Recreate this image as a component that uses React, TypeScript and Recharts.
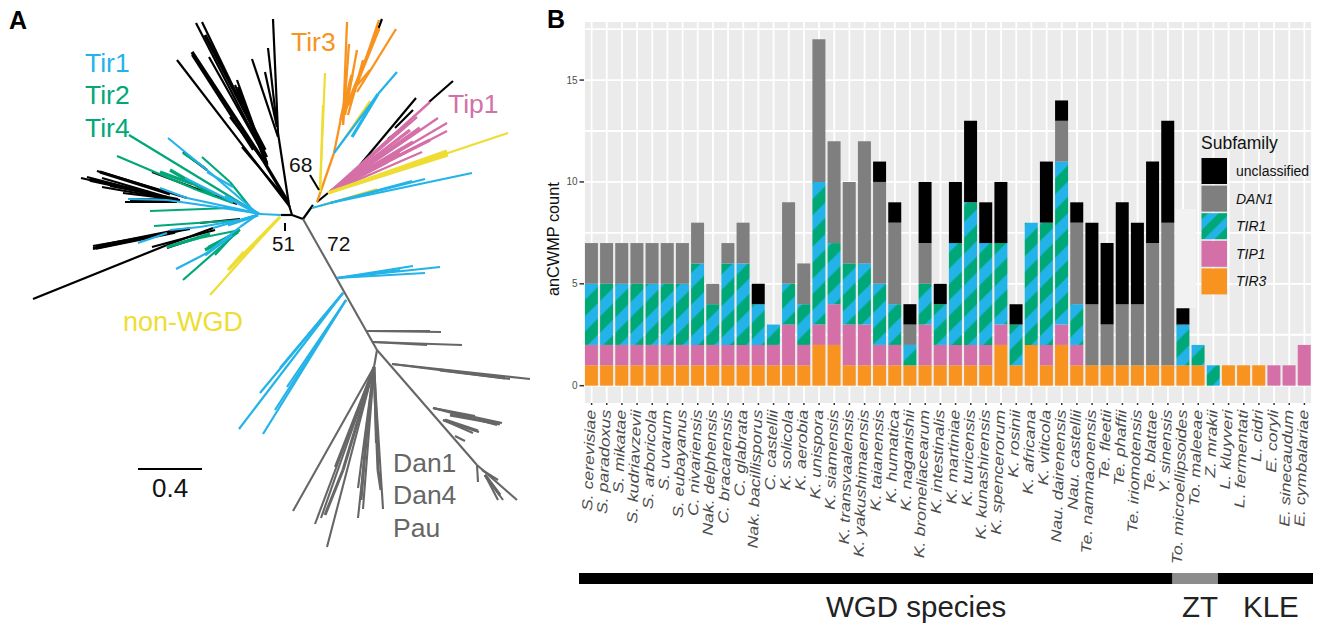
import React from 'react';
import { Bar, BarChart, CartesianGrid, Legend, Scatter, ScatterChart, XAxis, YAxis } from 'recharts';

const BLUE = '#23B3E8';
const GREEN = '#00A878';
const PINK = '#D56FA7';
const ORANGE = '#F7931E';
const YELLOW = '#EEDD33';
const GREY = '#666666';
const BAR_GREY = '#7F7F7F';
const FONT = '"Liberation Sans", Arial, sans-serif';

// panel B
const species = [
  'S. cerevisiae', 'S. paradoxus', 'S. mikatae', 'S. kudriavzevii', 'S. arboricola', 'S. uvarum', 'S. eubayanus',
  'C. nivariensis', 'Nak. delphensis', 'C. bracarensis', 'C. glabrata', 'Nak. bacillisporus', 'C. castellii',
  'K. solicola', 'K. aerobia', 'K. unispora', 'K. siamensis', 'K. transvaalensis', 'K. yakushimaensis',
  'K. taianensis', 'K. humatica', 'K. naganishii', 'K. bromeliacearum', 'K. intestinalis', 'K. martiniae',
  'K. turicensis', 'K. kunashirensis', 'K. spencerorum', 'K. rosinii', 'K. africana', 'K. viticola',
  'Nau. dairenensis', 'Nau. castellii', 'Te. namnaonensis', 'Te. fleetii', 'Te. phaffii', 'Te. iriomotensis',
  'Te. blattae', 'Y. sinensis', 'To. microellipsoides', 'To. maleeae', 'Z. mrakii', 'L. kluyveri', 'L. fermentati',
  'L. cidri', 'E. coryli', 'E. sinecaudum', 'E. cymbalariae',
];
const tir3 = [1, 1, 1, 1, 1, 1, 1, 1, 1, 1, 1, 1, 1, 1, 1, 2, 2, 1, 1, 1, 1, 1, 1, 1, 1, 1, 1, 2, 1, 2, 1, 2, 1, 1, 1, 1, 1, 1, 1, 1, 1, 0, 1, 1, 1, 0, 0, 0];
const tip1 = [1, 1, 1, 1, 1, 1, 1, 1, 1, 1, 1, 1, 1, 2, 1, 1, 2, 2, 2, 1, 1, 0, 2, 1, 1, 1, 1, 1, 0, 0, 1, 1, 1, 0, 0, 0, 0, 0, 0, 0, 0, 0, 0, 0, 0, 1, 1, 2];
const tir1 = [3, 3, 3, 3, 3, 3, 3, 4, 2, 4, 4, 2, 1, 2, 2, 7, 3, 3, 3, 3, 2, 1, 2, 2, 5, 7, 5, 4, 2, 6, 6, 8, 2, 0, 0, 0, 0, 0, 0, 2, 1, 1, 0, 0, 0, 0, 0, 0];
const dan1 = [2, 2, 2, 2, 2, 2, 2, 2, 1, 1, 2, 0, 0, 4, 2, 7, 5, 4, 6, 5, 4, 1, 2, 0, 0, 0, 0, 0, 0, 0, 0, 2, 4, 3, 2, 3, 3, 6, 7, 0, 0, 0, 0, 0, 0, 0, 0, 0];
const unclassified = [0, 0, 0, 0, 0, 0, 0, 0, 0, 0, 0, 1, 0, 0, 0, 0, 0, 0, 0, 1, 1, 1, 3, 1, 3, 4, 2, 3, 1, 0, 3, 1, 1, 4, 4, 5, 4, 4, 5, 0.8, 0, 0, 0, 0, 0, 0, 0, 0];

const barData = species.map((name, i) => ({
  name,
  TIR3: tir3[i],
  TIP1: tip1[i],
  TIR1: tir1[i],
  DAN1: dan1[i],
  unclassified: unclassified[i],
}));

const yTicks = [0, 5, 10, 15];
const yGrid = [0, 2.5, 5, 7.5, 10, 12.5, 15, 17.5];

const legendItems = [
  { name: 'unclassified', fill: '#000000', italic: false },
  { name: 'DAN1', fill: BAR_GREY, italic: true },
  { name: 'TIR1', fill: 'url(#tir1-legend)', italic: true },
  { name: 'TIP1', fill: PINK, italic: true },
  { name: 'TIR3', fill: ORANGE, italic: true },
];

// species per clade, as the width of the band under the axis
const cladeSpans = [{ name: 'clades', WGD: 39.3, ZT: 3, KLE: 6.3 }];

// panel A, branches as [x1, y1, x2, y2] in tree layout units
const blackBranches = [
  [281, 215, 292, 215], [292, 215, 303, 219], [303, 219, 313, 205], [317, 202, 328, 193],
  [273, 19, 278, 133], [268, 48, 277, 127], [265, 72, 277, 127], [252, 59, 278, 137], [278, 133, 289, 205], [289, 205, 292, 215],
  [177, 60, 290, 207], [192, 55, 253, 150], [196, 23, 265, 157], [202, 22, 267, 157], [209, 57, 263, 153],
  [237, 80, 267, 163], [235, 85, 267, 163], [238, 87, 265, 160], [230, 117, 263, 160], [242, 147, 287, 200],
  [152, 172, 237, 204], [97, 171, 187, 198], [81, 178, 177, 200], [102, 178, 167, 197], [102, 187, 177, 200], [123, 193, 180, 200],
  [125, 202, 177, 202], [183, 152, 207, 170], [87, 177, 180, 201], [110, 186, 178, 199],
  [200, 223, 240, 219], [93, 248, 190, 228], [93, 246, 190, 229], [93, 249, 160, 235], [33, 299, 167, 245], [167, 245, 213, 228],
  [152, 247, 215, 230], [167, 248, 200, 237],
  [429, 102, 453, 81], [360, 165, 416, 98], [388, 139, 410, 122], [395, 128, 413, 110], [377, 32, 382, 19],
];
const blackThickBranches = [
  [192, 52, 263, 160], [263, 160, 288, 202], [205, 35, 265, 150], [238, 90, 267, 165], [96, 248, 175, 232], [100, 246, 180, 230],
  [100, 172, 170, 194], [90, 180, 150, 193], [130, 200, 175, 200],
];
const pinkBranches = [
  [330, 192, 430, 102], [330, 192, 438, 118], [330, 192, 447, 123], [330, 192, 447, 131], [330, 192, 422, 152], [330, 192, 407, 137],
  [330, 192, 417, 117],
];
const pinkThickBranches = [
  [330, 192, 403, 148], [330, 192, 420, 128], [330, 192, 413, 142], [330, 192, 400, 153], [330, 192, 387, 162], [345, 180, 410, 130], [350, 180, 430, 140],
];
const orangeBranches = [
  [317, 202, 334, 153], [334, 153, 345, 98], [343, 125, 347, 22], [343, 125, 349, 44], [345, 115, 357, 50], [348, 115, 363, 60],
  [350, 105, 379, 20], [357, 92, 396, 29], [353, 90, 370, 70],
];
const orangeThickBranches = [[341, 120, 352, 75], [355, 87, 379, 28], [345, 110, 358, 80]];
const yellowBranches = [
  [280, 217, 210, 295], [320, 192, 325, 73], [320, 192, 323, 105], [342, 142, 370, 101],
  [328, 193, 508, 133], [320, 206, 377, 189],
];
const yellowThickBranches = [[328, 193, 447, 151], [328, 193, 448, 155], [280, 217, 228, 270], [230, 268, 244, 252]];
const greenBranches = [
  [129, 135, 257, 213], [117, 156, 197, 190], [197, 190, 233, 203], [183, 153, 205, 168],
  [202, 157, 230, 182], [230, 182, 250, 207], [150, 211, 230, 208], [154, 226, 240, 220], [167, 247, 200, 238], [200, 238, 240, 230],
  [183, 280, 240, 230], [208, 247, 237, 232], [215, 255, 238, 230],
];
const greenThickBranches = [[160, 172, 193, 184], [170, 170, 215, 196], [205, 250, 238, 232], [167, 247, 210, 234]];
const blueBranches = [
  [168, 138, 207, 170], [207, 170, 257, 213], [207, 172, 233, 187], [185, 178, 233, 202], [128, 199, 167, 200], [167, 200, 257, 213],
  [160, 188, 187, 198], [187, 198, 257, 213], [230, 208, 260, 214], [260, 214, 281, 215], [240, 220, 258, 215], [200, 227, 240, 220],
  [170, 230, 200, 227], [138, 243, 167, 233], [213, 228, 257, 215], [176, 269, 207, 253], [207, 253, 240, 227], [240, 227, 257, 215],
  [312, 208, 330, 203], [330, 203, 472, 173], [330, 203, 425, 179], [330, 203, 412, 181], [334, 153, 378, 94], [378, 94, 397, 72],
  [337, 278, 440, 267], [337, 278, 413, 266], [337, 278, 425, 273], [337, 278, 400, 270],
  [343, 293, 260, 393], [343, 293, 239, 429], [346, 300, 263, 434], [346, 300, 287, 387], [346, 300, 275, 410], [343, 293, 280, 368],
];
const blueThickBranches = [[225, 196, 259, 214], [228, 225, 258, 215], [205, 255, 232, 235], [352, 137, 378, 94]];
const greyBranches = [
  [303, 219, 377, 350], [367, 331, 441, 332], [367, 331, 430, 331], [373, 342, 462, 345], [373, 342, 427, 345],
  [377, 350, 477, 465], [392, 364, 530, 379], [392, 364, 510, 379], [433, 408, 502, 423], [433, 408, 475, 416], [433, 408, 497, 425],
  [443, 420, 479, 432], [443, 420, 473, 433], [455, 436, 465, 441], [477, 465, 517, 500], [477, 465, 478, 482], [482, 470, 498, 480],
  [485, 475, 503, 500], [485, 475, 498, 500],
  [377, 350, 374, 367], [374, 367, 293, 511], [374, 367, 327, 547], [374, 367, 315, 524], [374, 367, 321, 518], [374, 367, 335, 467],
  [374, 367, 358, 518], [374, 367, 363, 509], [374, 367, 358, 488], [374, 367, 383, 509], [374, 367, 376, 443],
];
const greyThickBranches = [
  [374, 367, 366, 440], [366, 440, 361, 500], [374, 367, 343, 470], [343, 470, 325, 515], [374, 367, 378, 470], [378, 470, 381, 490],
  [450, 415, 500, 424], [445, 420, 478, 431], [485, 475, 500, 495], [440, 370, 505, 378],
];
const scaleBar = [138, 469, 202, 469];
const nodeLeaders = [[285, 223, 285, 231], [310, 175, 319, 190]];

const branchGroups = [
  { color: '#000000', width: 2.2, branches: blackBranches },
  { color: '#000000', width: 3.4, branches: blackThickBranches },
  { color: GREY, width: 2.1, branches: greyBranches },
  { color: GREY, width: 3, branches: greyThickBranches },
  { color: PINK, width: 2.4, branches: pinkBranches },
  { color: PINK, width: 3.4, branches: pinkThickBranches },
  { color: ORANGE, width: 2.3, branches: orangeBranches },
  { color: ORANGE, width: 3.4, branches: orangeThickBranches },
  { color: YELLOW, width: 2.2, branches: yellowBranches },
  { color: YELLOW, width: 3.2, branches: yellowThickBranches },
  { color: GREEN, width: 2.2, branches: greenBranches },
  { color: GREEN, width: 3.2, branches: greenThickBranches },
  { color: BLUE, width: 2.2, branches: blueBranches },
  { color: BLUE, width: 3.2, branches: blueThickBranches },
  { color: '#000000', width: 2, branches: [scaleBar, ...nodeLeaders] },
];

function NoPoint() {
  return <g />;
}

function SpeciesTick({ x, y, payload }: any) {
  return (
    <text
      transform={`translate(${x + 4},${y + 3}) rotate(-88) scale(1.22,1)`}
      textAnchor="end"
      fontFamily={FONT}
      fontSize={14.5}
      fontStyle="italic"
      fill="#4D4D4D"
    >
      {payload.value}
    </text>
  );
}

function SubfamilyLegend() {
  return (
    <div style={{ fontFamily: FONT, color: '#111' }}>
      <div style={{ fontSize: 17.5, height: 26, lineHeight: '22px' }}>Subfamily</div>
      <svg width={30} height={140} style={{ position: 'absolute', left: 0, top: 26 }}>
        <defs>
          <pattern id="tir1-legend" width={15.5} height={15.5} patternUnits="userSpaceOnUse" patternTransform="rotate(45)">
            <rect width={15.5} height={15.5} fill={BLUE} />
            <rect x={5} width={8} height={15.5} fill={GREEN} />
          </pattern>
        </defs>
        {legendItems.map((item, i) => (
          <rect key={item.name} x={0.5} y={i * 27.6} width={25.5} height={26} fill={item.fill} />
        ))}
      </svg>
      {legendItems.map((item, i) => (
        <div
          key={item.name}
          style={{
            position: 'absolute',
            left: 35,
            top: 26 + i * 27.6,
            lineHeight: '26px',
            fontSize: 14,
            fontStyle: item.italic ? 'italic' : 'normal',
          }}
        >
          {item.name}
        </div>
      ))}
    </div>
  );
}

const treeText = (text: string, x: number, y: number, fill: string, size = 26.5) => (
  <text x={x} y={y} fill={fill} fontSize={size}>
    {text}
  </text>
);

export default function App() {
  return (
    <div style={{ position: 'absolute', left: 0, top: 0, width: 1321, height: 623, background: '#fff', overflow: 'hidden' }}>
      <div style={{ position: 'absolute', left: 0, top: 0 }}>
        <ScatterChart width={540} height={623} margin={{ top: 0, right: 0, bottom: 0, left: 0 }}>
          <XAxis type="number" dataKey="x" domain={[0, 540]} hide />
          <YAxis type="number" dataKey="y" domain={[0, 623]} reversed hide width={0} />
          {branchGroups.flatMap((group, g) =>
            group.branches.map((b, i) => (
              <Scatter
                key={`${g}-${i}`}
                data={[{ x: b[0], y: b[1] }, { x: b[2], y: b[3] }]}
                line={{ stroke: group.color, strokeWidth: group.width }}
                shape={NoPoint}
                isAnimationActive={false}
              />
            )),
          )}
        </ScatterChart>
      </div>

      <div style={{ position: 'absolute', left: 500, top: 0 }}>
        <BarChart
          width={821}
          height={623}
          data={barData}
          barCategoryGap="6%"
          margin={{ top: 22, right: 9, bottom: 10, left: 0 }}
        >
          <defs>
            <pattern id="tir1-stripes" width={22.4} height={22.4} patternUnits="userSpaceOnUse" patternTransform="rotate(45)">
              <rect width={22.4} height={22.4} fill={BLUE} />
              <rect x={3.3} width={11.5} height={22.4} fill={GREEN} />
            </pattern>
          </defs>
          <CartesianGrid fill="#EBEBEB" stroke="#FFFFFF" strokeWidth={1.8} horizontalValues={yGrid} />
          <XAxis
            dataKey="name"
            interval={0}
            height={210}
            axisLine={false}
            tickSize={2}
            tickLine={{ stroke: '#333', strokeWidth: 1.5 }}
            tick={SpeciesTick}
          />
          <YAxis
            width={84}
            type="number"
            domain={[-0.85, 17.85]}
            ticks={yTicks}
            allowDataOverflow
            axisLine={false}
            tickSize={4.5}
            tickMargin={2}
            tickLine={{ stroke: '#333', strokeWidth: 1.5 }}
            tick={{ fontSize: 10, fill: '#4D4D4D', fontFamily: FONT }}
          />
          <Legend
            layout="vertical"
            align="center"
            verticalAlign="middle"
            content={SubfamilyLegend}
            wrapperStyle={{ position: 'absolute', left: 701, top: 132, width: 120, height: 170 }}
          />
          <Bar dataKey="TIR3" stackId="a" fill={ORANGE} isAnimationActive={false} />
          <Bar dataKey="TIP1" stackId="a" fill={PINK} isAnimationActive={false} />
          <Bar dataKey="TIR1" stackId="a" fill="url(#tir1-stripes)" isAnimationActive={false} />
          <Bar dataKey="DAN1" stackId="a" fill={BAR_GREY} isAnimationActive={false} />
          <Bar dataKey="unclassified" stackId="a" fill="#000000" isAnimationActive={false} />
        </BarChart>
      </div>

      {/* pale patch the legend box left on the panel */}
      <div style={{ position: 'absolute', left: 1175, top: 209, width: 21, height: 99, background: '#F2F2F2' }} />

      <div style={{ position: 'absolute', left: 579, top: 573 }}>
        <BarChart
          width={734}
          height={11}
          layout="vertical"
          data={cladeSpans}
          barCategoryGap={0}
          margin={{ top: 0, right: 0, bottom: 0, left: 0 }}
        >
          <XAxis type="number" domain={[0, 48.6]} hide />
          <YAxis type="category" dataKey="name" hide width={0} />
          <Bar dataKey="WGD" stackId="c" fill="#000000" isAnimationActive={false} />
          <Bar dataKey="ZT" stackId="c" fill="#8C8C8C" isAnimationActive={false} />
          <Bar dataKey="KLE" stackId="c" fill="#000000" isAnimationActive={false} />
        </BarChart>
      </div>

      <svg width={1321} height={623} style={{ position: 'absolute', left: 0, top: 0, pointerEvents: 'none' }} fontFamily={FONT}>
        <text x={9} y={29} fontSize={25} fontWeight={700}>A</text>
        <text x={547} y={28} fontSize={25} fontWeight={700}>B</text>
        {treeText('Tir1', 85, 72, BLUE)}
        {treeText('Tir2', 85, 104, GREEN)}
        {treeText('Tir4', 85, 137, GREEN)}
        {treeText('Tir3', 291, 51, ORANGE)}
        {treeText('Tip1', 448, 113, PINK)}
        {treeText('non-WGD', 123, 331, YELLOW, 27)}
        {treeText('Dan1', 393, 472, GREY)}
        {treeText('Dan4', 393, 504, GREY)}
        {treeText('Pau', 393, 537, GREY)}
        {treeText('51', 272, 251, '#111', 20.5)}
        {treeText('68', 289, 172, '#111', 21)}
        {treeText('72', 327, 251, '#111', 21)}
        {treeText('0.4', 152, 497, '#111', 26)}
        <text transform="translate(559,296) rotate(-90)" fontSize={16.3} fill="#111">anCWMP count</text>
        {treeText('WGD species', 826, 617, '#222', 29.5)}
        {treeText('ZT', 1182, 617, '#222', 29.5)}
        {treeText('KLE', 1243, 617, '#222', 29.5)}
      </svg>
    </div>
  );
}
